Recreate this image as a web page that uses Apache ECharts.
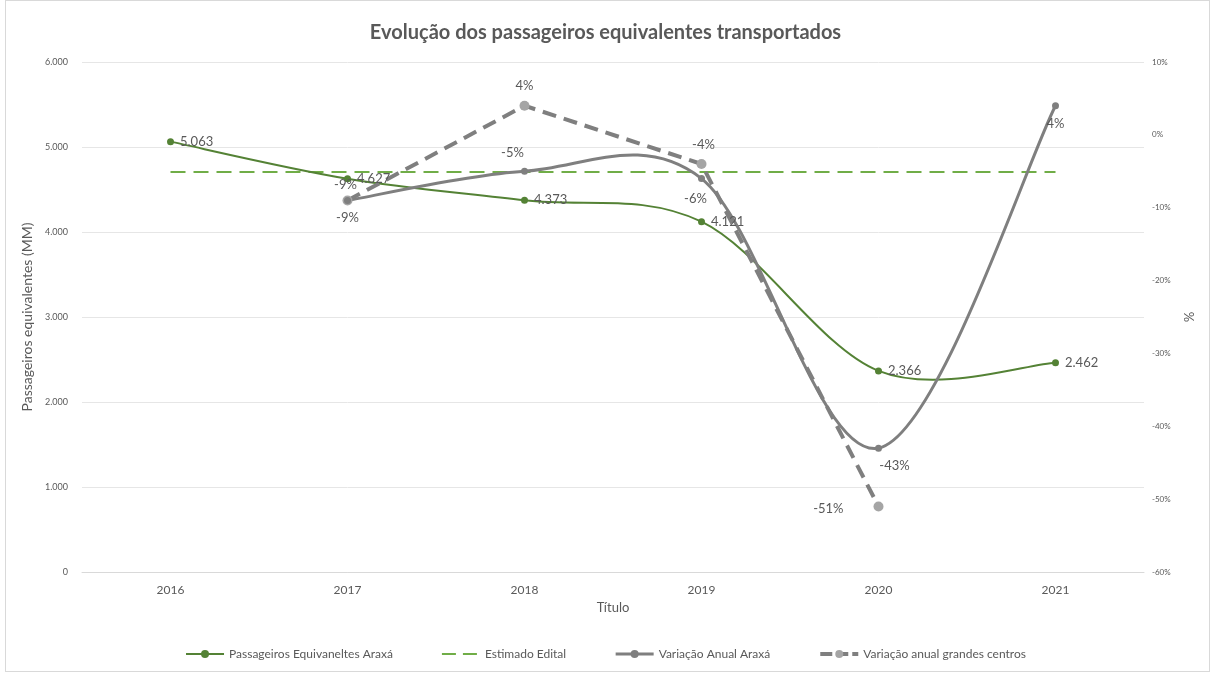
<!DOCTYPE html>
<html>
<head>
<meta charset="utf-8">
<script src="https://cdn.jsdelivr.net/npm/echarts@6/dist/echarts.min.js"></script>
<style>
  html, body { margin: 0; padding: 0; background: #fff; }
  #frame { position: absolute; left: 5px; top: 0; width: 1205px; height: 672px; border: 1px solid #d9d9d9; box-sizing: border-box; }
  #chart { position: absolute; left: 0; top: 0; width: 1211px; height: 673px; }
</style>
</head>
<body>
<div id="frame"></div>
<div id="chart"></div>
<script>
// Anos
const categories = ['2016', '2017', '2018', '2019', '2020', '2021'];
// Passageiros equivalentes (MM)
const passageirosAraxa = [5063, 4627, 4373, 4121, 2366, 2462];
// Estimativa do edital
const estimadoEdital = [4706, 4706, 4706, 4706, 4706, 4706];
// Variação anual (%)
const variacaoAraxa = [null, -9, -5, -6, -43, 4];
const variacaoGrandesCentros = [null, -9, 4, -4, -51, null];

const FONT = 'Lato, "Open Sans", sans-serif';
const TXT = '#595959';

const fmtMil = v => String(Math.round(v)).replace(/\B(?=(\d{3})+(?!\d))/g, '.');

// posição dos rótulos de cada ponto
const posAraxa = ['top', 'top', 'top', 'bottom', 'bottom', 'bottom'];
const offAraxa = [[0, 0], [-2, 0], [-12, -2], [-6, 4], [16, 2], [0, 2]];
const posCentros = ['top', 'bottom', 'top', 'top', 'left', 'top'];
const offCentros = [[0, 0], [0, 0], [0, -2], [2, -2], [-24, 2], [0, 0]];

// curva suavizada (Catmull-Rom) passando pelos pontos da série
function smoothCurve(values, color, width) {
  return function (params, api) {
    const pts = [];
    values.forEach((v, i) => { if (v !== null) pts.push(api.coord([i, v])); });
    if (pts.length < 2) return null;
    const k = 1 / 6;
    let d = 'M' + pts[0][0] + ',' + pts[0][1];
    for (let i = 0; i < pts.length - 1; i++) {
      const p0 = pts[i - 1] || pts[i];
      const p1 = pts[i];
      const p2 = pts[i + 1];
      const p3 = pts[i + 2] || p2;
      const c1 = [p1[0] + (p2[0] - p0[0]) * k, p1[1] + (p2[1] - p0[1]) * k];
      const c2 = [p2[0] - (p3[0] - p1[0]) * k, p2[1] - (p3[1] - p1[1]) * k];
      d += ' C' + c1[0] + ',' + c1[1] + ' ' + c2[0] + ',' + c2[1] + ' ' + p2[0] + ',' + p2[1];
    }
    return {
      type: 'path',
      shape: { pathData: d },
      style: { fill: null, stroke: color, lineWidth: width, lineJoin: 'round', lineCap: 'round' },
      silent: true
    };
  };
}

const chart = echarts.init(document.getElementById('chart'));
chart.setOption({
  backgroundColor: 'transparent',
  animation: false,
  textStyle: { fontFamily: FONT },
  title: {
    text: 'Evolução dos passageiros equivalentes transportados',
    left: 'center', top: 18,
    textStyle: { fontFamily: FONT, fontSize: 20, fontWeight: 'bold', color: TXT }
  },
  legend: {
    bottom: 8, left: 'center', itemGap: 48, itemWidth: 38, itemHeight: 10,
    textStyle: { fontFamily: FONT, fontSize: 12, color: TXT },
    data: [
      { name: 'Passageiros Equivaneltes Araxá', itemStyle: { color: '#548235' },
        lineStyle: { color: '#548235', width: 2, opacity: 1 } },
      { name: 'Estimado Edital', itemStyle: { color: '#70ad47', opacity: 0 },
        lineStyle: { color: '#70ad47', width: 2, type: [14, 7], opacity: 1 } },
      { name: 'Variação Anual Araxá', itemStyle: { color: '#7f7f7f' },
        lineStyle: { color: '#7f7f7f', width: 3, opacity: 1 } },
      { name: 'Variação anual grandes centros', itemStyle: { color: '#a5a5a5' },
        lineStyle: { color: '#7f7f7f', width: 4, type: [12, 4], opacity: 1 } }
    ]
  },
  grid: { left: 82, right: 67, top: 62, bottom: 101 },
  xAxis: {
    type: 'category', data: categories, boundaryGap: true,
    name: 'Título', nameLocation: 'middle', nameGap: 22,
    nameTextStyle: { fontFamily: FONT, fontSize: 13, color: TXT },
    axisLine: { lineStyle: { color: '#d9d9d9' } },
    axisTick: { show: false },
    axisLabel: { fontFamily: FONT, fontSize: 12, color: TXT, margin: 12 }
  },
  yAxis: [
    {
      type: 'value', min: 0, max: 6000, interval: 1000,
      name: 'Passageiros equivalentes (MM)', nameLocation: 'middle', nameGap: 44,
      nameTextStyle: { fontFamily: FONT, fontSize: 14, color: TXT },
      axisLine: { show: false }, axisTick: { show: false },
      axisLabel: { fontFamily: FONT, fontSize: 9, color: TXT, margin: 14, formatter: fmtMil },
      splitLine: { lineStyle: { color: '#e6e6e6' } }
    },
    {
      type: 'value', min: -60, max: 10, interval: 10,
      name: '%', nameLocation: 'middle', nameGap: 38, nameRotate: -90,
      nameTextStyle: { fontFamily: FONT, fontSize: 13, color: TXT },
      axisLine: { show: false }, axisTick: { show: false },
      axisLabel: { fontFamily: FONT, fontSize: 8, color: TXT, margin: 8, formatter: v => v + '%' },
      splitLine: { show: false }
    }
  ],
  series: [
    {
      type: 'custom', yAxisIndex: 0, z: 3,
      renderItem: smoothCurve(passageirosAraxa, '#548235', 2),
      data: [[0, passageirosAraxa[0]]], tooltip: { show: false }
    },
    {
      type: 'custom', yAxisIndex: 1, z: 3,
      renderItem: smoothCurve(variacaoAraxa, '#7f7f7f', 3),
      data: [[1, variacaoAraxa[1]]], tooltip: { show: false }
    },
    {
      name: 'Passageiros Equivaneltes Araxá', type: 'line', yAxisIndex: 0,
      data: passageirosAraxa,
      symbol: 'circle', symbolSize: 7,
      itemStyle: { color: '#548235' },
      lineStyle: { opacity: 0 },
      label: {
        show: true, position: 'right', distance: 6,
        fontFamily: FONT, fontSize: 13, color: TXT,
        formatter: p => fmtMil(p.value)
      },
      z: 5
    },
    {
      name: 'Estimado Edital', type: 'line', yAxisIndex: 0,
      data: estimadoEdital, symbol: 'none', showSymbol: false,
      itemStyle: { color: '#70ad47' },
      lineStyle: { color: '#70ad47', width: 2, type: [15, 8] },
      z: 2
    },
    {
      name: 'Variação Anual Araxá', type: 'line', yAxisIndex: 1,
      data: variacaoAraxa.map((v, i) => ({
        value: v,
        label: { position: posAraxa[i], offset: offAraxa[i] }
      })),
      symbol: 'circle', symbolSize: 7,
      itemStyle: { color: '#7f7f7f' },
      lineStyle: { opacity: 0 },
      label: {
        show: true, distance: 6,
        fontFamily: FONT, fontSize: 13, color: TXT,
        formatter: p => p.value + '%'
      },
      z: 5
    },
    {
      name: 'Variação anual grandes centros', type: 'line', yAxisIndex: 1,
      data: variacaoGrandesCentros.map((v, i) => ({
        value: v,
        label: { position: posCentros[i], offset: offCentros[i] }
      })),
      smooth: false,
      symbol: 'circle', symbolSize: 10,
      itemStyle: { color: '#a5a5a5' },
      lineStyle: { color: '#7f7f7f', width: 4, type: [14, 8] },
      label: {
        show: true, distance: 6,
        fontFamily: FONT, fontSize: 13, color: TXT,
        formatter: p => p.value + '%'
      },
      z: 4
    }
  ]
});
</script>
</body>
</html>
